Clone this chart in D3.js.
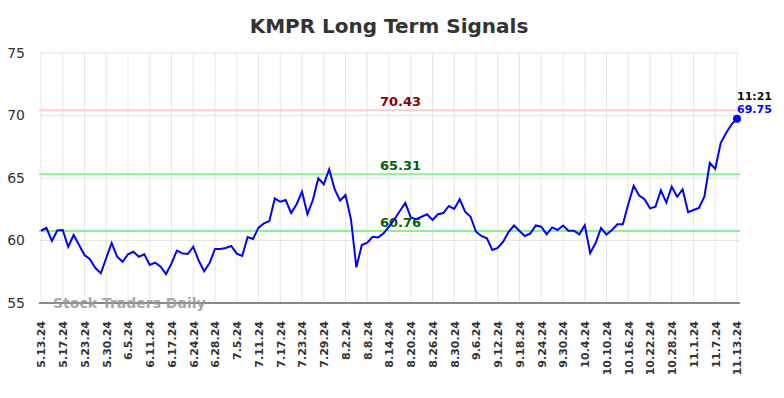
<!DOCTYPE html>
<html lang="en">
<head>
  <meta charset="UTF-8">
  <title>KMPR Long Term Signals</title>
  <script src="https://d3js.org/d3.v7.min.js"></script>
  <style>
    body {
      margin: 0;
      background: #fff;
      font-family: "DejaVu Sans", sans-serif;
    }
    svg { display: block; }
  </style>
</head>
<body>
  <svg id="chart" width="784" height="398"></svg>

  <script>
    // Tick labels, one every 4 trading days.
    const tickLabels = ["5.13.24","5.17.24","5.23.24","5.30.24","6.5.24","6.11.24","6.17.24","6.24.24",
      "6.28.24","7.5.24","7.11.24","7.17.24","7.23.24","7.29.24","8.2.24","8.8.24","8.14.24","8.20.24",
      "8.26.24","8.30.24","9.6.24","9.12.24","9.18.24","9.24.24","9.30.24","10.4.24","10.10.24",
      "10.16.24","10.22.24","10.28.24","11.1.24","11.7.24","11.13.24"];

    // Daily signal values.
    const values = [
      60.78, 61.0, 59.96, 60.8, 60.84, 59.5, 60.44, 59.64, 58.84, 58.5,
      57.8, 57.38, 58.6, 59.8, 58.7, 58.3, 58.9, 59.1, 58.7, 58.9,
      58.04, 58.23, 57.9, 57.32, 58.17, 59.19, 58.97, 58.92, 59.5, 58.4,
      57.54, 58.2, 59.32, 59.32, 59.4, 59.56, 58.95, 58.76, 60.28, 60.12,
      61.03, 61.37, 61.55, 63.37, 63.1, 63.24, 62.2, 62.9, 63.9, 62.1,
      63.24, 64.97, 64.5, 65.7, 64.1, 63.2, 63.64, 61.7, 57.85, 59.64,
      59.82, 60.3, 60.25, 60.57, 61.1, 61.7, 62.36, 63.0, 61.85, 61.7,
      61.9, 62.1, 61.64, 62.1, 62.2, 62.76, 62.52, 63.3, 62.3, 61.9,
      60.7, 60.36, 60.17, 59.24, 59.4, 59.9, 60.7, 61.2, 60.76, 60.36,
      60.57, 61.2, 61.1, 60.5, 61.05, 60.84, 61.2, 60.78, 60.78, 60.5,
      61.22, 59.0, 59.8, 61.0, 60.47, 60.84, 61.3, 61.3, 62.9, 64.37,
      63.6, 63.3, 62.57, 62.7, 64.02, 63.03, 64.3, 63.5, 64.1, 62.27,
      62.44, 62.6, 63.5, 66.2, 65.73, 67.8, 68.6, 69.3, 69.75
    ];

    // Signal levels.
    const levels = [70.43, 65.31, 60.76];
    const levelLineColors = ["#ffcccc", "#90ee90", "#90ee90"];
    const levelTextColors = ["#8b0000", "#006400", "#006400"];

    const yTicks = [55, 60, 65, 70, 75];
    const lastTime = "11:21";

    const svg = d3.select("#chart");
    const plotLeft = 39, plotRight = 740;

    const x = d3.scaleLinear()
                .domain([0, values.length - 1])
                .range([41, 737]);
    const y = d3.scaleLinear()
                .domain([55, 75])
                .range([303, 53]);

    const tickIdx = tickLabels.map((d, i) => i * 4);

    // Title.
    svg.append("text")
       .attr("x", 389)
       .attr("y", 33)
       .attr("text-anchor", "middle")
       .attr("font-size", 20)
       .attr("font-weight", "bold")
       .attr("fill", "#333")
       .text("KMPR Long Term Signals");

    // Grid lines.
    svg.append("g")
       .selectAll("line")
       .data(tickIdx)
       .enter().append("line")
       .attr("x1", d => x(d)).attr("x2", d => x(d))
       .attr("y1", y(75)).attr("y2", y(55))
       .attr("stroke", "#e6e6e6")
       .attr("stroke-width", 1);

    svg.append("g")
       .selectAll("line")
       .data(yTicks)
       .enter().append("line")
       .attr("x1", plotLeft).attr("x2", plotRight)
       .attr("y1", d => y(d)).attr("y2", d => y(d))
       .attr("stroke", "#e6e6e6")
       .attr("stroke-width", 1);

    // Y axis labels.
    const yAxis = svg.append("g")
       .attr("transform", `translate(${plotLeft}, 0)`)
       .call(d3.axisLeft(y).tickValues(yTicks).tickSize(0).tickPadding(14));
    yAxis.select(".domain").remove();
    yAxis.selectAll("text")
         .attr("font-size", 14)
         .attr("font-family", "DejaVu Sans, sans-serif")
         .attr("fill", "#333");

    // X axis.
    const xAxis = svg.append("g")
       .attr("transform", `translate(0, ${y(55)})`)
       .call(d3.axisBottom(x).tickValues(tickIdx)
               .tickFormat((d, i) => tickLabels[i]).tickSize(0));
    xAxis.select(".domain").remove();
    xAxis.selectAll("text")
         .attr("font-size", 11)
         .attr("font-weight", "bold")
         .attr("font-family", "DejaVu Sans, sans-serif")
         .attr("fill", "#333")
         .attr("text-anchor", "end")
         .attr("dy", "0.35em")
         .attr("transform", "translate(0, 18) rotate(-90)")
         .attr("x", 0).attr("y", 0);

    svg.append("line")
       .attr("x1", plotLeft).attr("x2", plotRight)
       .attr("y1", y(55)).attr("y2", y(55))
       .attr("stroke", "#666")
       .attr("stroke-width", 1.3);

    // Watermark.
    svg.append("text")
       .attr("x", 53)
       .attr("y", 308)
       .attr("font-size", 14)
       .attr("font-weight", "bold")
       .attr("fill", "#999")
       .attr("opacity", 0.85)
       .text("Stock Traders Daily");

    // Signal lines.
    levels.forEach((lv, i) => {
      svg.append("line")
         .attr("x1", plotLeft).attr("x2", plotRight)
         .attr("y1", y(lv)).attr("y2", y(lv))
         .attr("stroke", levelLineColors[i])
         .attr("stroke-width", 2);
      svg.append("text")
         .attr("x", 380)
         .attr("y", y(lv) - 4)
         .attr("font-size", 13)
         .attr("font-weight", "bold")
         .attr("fill", levelTextColors[i])
         .text(lv.toFixed(2));
    });

    // Main line.
    const line = d3.line()
                   .x((d, i) => x(i))
                   .y(d => y(d));
    svg.append("path")
       .datum(values)
       .attr("fill", "none")
       .attr("stroke", "#0000ff")
       .attr("stroke-width", 2)
       .attr("d", line);

    // Last point.
    const last = values.length - 1;
    svg.append("circle")
       .attr("cx", x(last))
       .attr("cy", y(values[last]))
       .attr("r", 4)
       .attr("fill", "#0000ff");
    svg.append("text")
       .attr("x", x(last))
       .attr("y", y(values[last]) - 19)
       .attr("font-size", 11)
       .attr("font-weight", "bold")
       .attr("fill", "#111")
       .text(lastTime);
    svg.append("text")
       .attr("x", x(last))
       .attr("y", y(values[last]) - 6)
       .attr("font-size", 11)
       .attr("font-weight", "bold")
       .attr("fill", "#0000ff")
       .text(values[last].toFixed(2));
  </script>
</body>
</html>
